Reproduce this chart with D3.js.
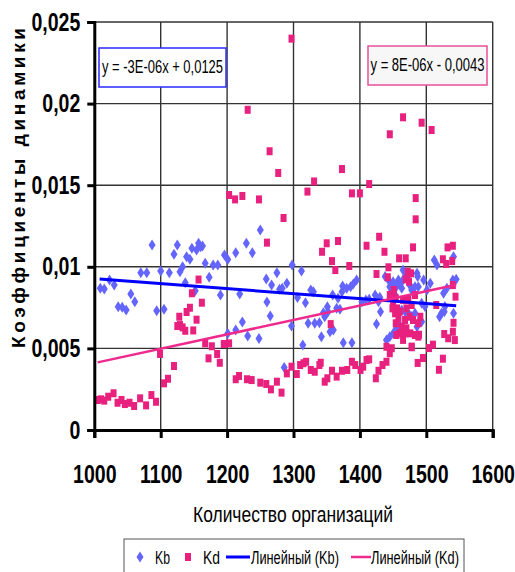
<!DOCTYPE html>
<html>
<head>
<meta charset="utf-8">
<script src="https://cdn.jsdelivr.net/npm/d3@7"></script>
<style>
  body { margin: 0; background: white; }
  text { font-family: "Liberation Sans", Arial, sans-serif; }
</style>
</head>
<body>
<script>
// Kb series (diamonds)
let kbX = [1009,1015,1023,1030,1036,1042,1048,1055,1061,1070,1079,1087,1094,1105,1100,1113,1120,1125,1129,1133,
  1137,1139,1144,1147,1152,1154,1157,1160,1163,1167,1173,1179,1186,1190,1196,1201,1201,1213,1213,1219,
  1223,1229,1231,1238,1248,1250,1259,1260,1265,1267,1275,1279,1283,1286,1290,1297,1298,1306,1312,1314,
  1318,1322,1326,1330,1332,1339,1342,1345,1347,1351,1352,1355,1360,1359,1365,1367,1370,1373,1374,1375,
  1380,1386,1388,1390,1395,1403,1409,1414,1423,1425,1428,1430,1431,
  1438,1443,1445,1448,1450,1453,1455,1458,1460,1463,1465,1468,1470,1473,1475,1478,1480,1483,1486,1487,
  1488,1491,1493,1486,1483,1478,1473,1468,1463,1445,1450,1455,1458,1440,1465,1496,1501,1498,1493,1506,
  1512,1516,1541,1540,1545,1531,1526,1520,1523,1527,1541,1528]
let kbY = [0.00868,0.00864,0.00919,0.00888,0.00755,0.00752,0.00735,0.00833,0.00786,0.00964,0.00964,0.01133,0.00731,0.00740,0.00974,0.00964,0.01077,0.01133,0.00970,0.01001,
  0.00902,0.01062,0.01046,0.01113,0.00853,0.01103,0.01144,0.01123,0.01127,0.01021,0.00936,0.01011,0.01011,0.00827,0.01072,0.01045,0.00592,0.01086,0.00613,0.00833,
  0.00662,0.01144,0.00576,0.01086,0.00561,0.01225,0.00925,0.00784,0.00698,0.00888,0.00964,0.00862,0.00868,0.00383,0.00899,0.00637,0.01011,0.00812,0.00974,0.00521,
  0.00780,0.00654,0.00858,0.00847,0.00654,0.00657,0.00572,0.00719,0.00694,0.00755,0.00725,0.00602,0.00613,0.00827,0.00746,0.00807,0.00740,0.00847,0.00882,0.00535,
  0.00868,0.00878,0.00535,0.00895,0.00919,0.00786,0.00797,0.00801,0.00827,0.00649,0.00786,0.00813,0.00725,
  0.00940,0.00919,0.00878,0.00858,0.00909,0.00827,0.00878,0.00919,0.00899,0.00868,0.00919,0.00940,0.00960,0.00919,0.00889,0.00858,0.00848,0.00878,0.00960,0.00940,
  0.00878,0.00674,0.00664,0.00633,0.00715,0.00695,0.00715,0.00725,0.00735,0.00572,0.00592,0.00623,0.00654,0.00552,0.00980,0.00919,0.00858,0.00756,0.00776,0.00899,
  0.01042,0.01011,0.01062,0.00919,0.00923,0.00868,0.00838,0.00694,0.00715,0.00725,0.00715,0.00756]

// Kd series (squares)
let kdX = [1005,1010,1015,1021,1029,1035,1041,1046,1053,1060,1069,1078,1086,1093,1099,1105,1111,1120,1125,1128,
  1129,1133,1137,1139,1144,1149,1154,1147,1157,1162,1167,1172,1177,1185,1189,1195,1203,1203,1212,1223,
  1231,1248,1260,1264,1277,1285,1297,1321,1331,
  1213,1218,1230,1237,1250,1259,1266,1275,1282,1290,1297,1305,1310,1315,1319,1326,1332,1339,1341,1347,
  1351,1358,1365,1373,1381,1388,1393,1401,1405,1410,1414,1424,1428,1434,1440,1445,1440,1448,1478,1489,
  1487,1495,1504,1510,1525,1519,
  1343,1350,1367,1358,1363,1384,1373,1388,1400,1414,1484,1484,1410,1429,1437,1480,1459,1469,1443,1425,
  1532,1540,1525,1530,1539,1472,1477,1469,1474,1442,1540,1544,1541,1540,1543,1527,1533,1515,1356,
  1448,1450,1454,1456,1453,1460,1458,1454,1463,1468,1470,1465,1473,1478,1475,1480,1470,1476,1468,1460,
  1455,1465,1483,1488,1478,1445,1449,1483,1451,1488,1491,
  1465,1493,1508,1445]
let kdY = [0.00184,0.00188,0.00180,0.00204,0.00225,0.00167,0.00184,0.00159,0.00167,0.00147,0.00194,0.00151,0.00214,0.00173,0.00466,0.00286,0.00314,0.00392,0.00637,0.00694,
  0.00643,0.00629,0.00608,0.00723,0.00749,0.00610,0.00676,0.00838,0.00922,0.00780,0.00531,0.00439,0.00513,0.00466,0.00412,0.00527,0.00531,0.01440,0.01413,0.01434,
  0.01962,0.01413,0.01148,0.01708,0.01575,0.01299,0.02398,0.01461,0.01523,
  0.00311,0.00331,0.00311,0.00306,0.00290,0.00282,0.00249,0.00296,0.00229,0.00347,0.00388,0.00343,0.00398,0.00409,0.00418,0.00368,0.00357,0.00398,0.00412,0.00296,
  0.00317,0.00363,0.00327,0.00363,0.00368,0.00418,0.00398,0.00368,0.00388,0.00429,0.00433,0.00317,0.00363,0.00398,0.00418,0.00470,0.00510,0.00501,0.00507,0.00584,
  0.00411,0.00441,0.00502,0.00523,0.00437,0.00369,
  0.01092,0.01144,0.01158,0.01035,0.00980,0.01005,0.01599,0.01450,0.01450,0.01507,0.01421,0.01291,0.01129,0.01184,0.01092,0.01119,0.01052,0.01052,0.00997,0.00956,
  0.01119,0.01129,0.01046,0.01017,0.01035,0.00970,0.00960,0.00923,0.00909,0.00936,0.00888,0.00817,0.00657,0.00602,0.00551,0.00588,0.00562,0.00766,0.00649,
  0.00827,0.00776,0.00807,0.00745,0.00715,0.00725,0.00684,0.00654,0.00633,0.00674,0.00745,0.00797,0.00797,0.00766,0.00694,0.00674,0.00623,0.00592,0.00592,0.00592,
  0.00582,0.00552,0.00582,0.00572,0.00511,0.00827,0.00745,0.00827,0.00858,0.00654,0.00694,
  0.01916,0.01883,0.01838,0.01812]

// linear trends (as drawn), order: Kb, Kd
let trendSlope = [-3.05e-6, 8.8e-6]
let trendIntercept = [0.01232, -0.0047]
let trendFrom = [1008, 1005]
let trendTo = [1545, 1545]
let trendColors = ["#0000ff", "#ee2a8c"]
let trendLabels = ["y = -3E-06x + 0,0125", "y = 8E-06x - 0,0043"]

let xTicks = [1000, 1100, 1200, 1300, 1400, 1500, 1600]
let yTicks = [0, 0.005, 0.01, 0.015, 0.02, 0.025]

// squeeze text horizontally, like a narrow font
function narrow(sel, k) {
  sel.each(function() {
    let len = this.getComputedTextLength()
    d3.select(this).attr("textLength", len * k).attr("lengthAdjust", "spacingAndGlyphs")
  })
}

let svg = d3.select("body")
  .append("svg")
    .attr("width", 515)
    .attr("height", 572)

let x = d3.scaleLinear().domain([1000, 1600]).range([94.3, 492.7])
let y = d3.scaleLinear().domain([0, 0.025]).range([430, 22])

// grid
svg.append("g")
  .selectAll("line")
  .data(yTicks.slice(1))
  .join("line")
    .attr("x1", x(1000)).attr("x2", x(1600))
    .attr("y1", d => y(d)).attr("y2", d => y(d))
    .attr("stroke", "#333").attr("stroke-width", 1.4)
svg.append("g")
  .selectAll("line")
  .data(xTicks.slice(1))
  .join("line")
    .attr("x1", d => x(d)).attr("x2", d => x(d))
    .attr("y1", y(0)).attr("y2", y(0.025))
    .attr("stroke", "#333").attr("stroke-width", 1.4)

// points
let kb = kbX.map((d, i) => [d, kbY[i]])
let kd = kdX.map((d, i) => [d, kdY[i]])

svg.append("g")
  .selectAll("path")
  .data(kb)
  .join("path")
    .attr("d", "M0,-5.5L3.5,0L0,5.5L-3.5,0Z")
    .attr("transform", d => "translate(" + x(d[0]) + "," + y(d[1]) + ")")
    .attr("fill", "#6464ff")

svg.append("g")
  .selectAll("rect")
  .data(kd)
  .join("rect")
    .attr("x", d => x(d[0]) - 3)
    .attr("y", d => y(d[1]) - 4)
    .attr("width", 6)
    .attr("height", 8)
    .attr("fill", "#e8207e")

// trend lines
for (let i = 0; i < 2; i++) {
  svg.append("line")
    .attr("x1", x(trendFrom[i]))
    .attr("y1", y(trendSlope[i] * trendFrom[i] + trendIntercept[i]))
    .attr("x2", x(trendTo[i]))
    .attr("y2", y(trendSlope[i] * trendTo[i] + trendIntercept[i]))
    .attr("stroke", trendColors[i])
    .attr("stroke-width", i == 0 ? 3 : 2.5)
}

// axes
svg.append("g")
  .attr("transform", "translate(" + x(1000) + ",0)")
  .call(d3.axisLeft(y).tickValues(yTicks).tickSize(7).tickPadding(7)
    .tickFormat(d => d == 0 ? "0" : String(d).replace(".", ",")))
svg.append("g")
  .attr("transform", "translate(0," + y(0) + ")")
  .call(d3.axisBottom(x).tickValues(xTicks).tickSize(8).tickPadding(27).tickFormat(d => d))

svg.selectAll(".domain, .tick line")
  .attr("stroke", "black")
  .attr("stroke-width", 3)
svg.selectAll(".tick text")
  .attr("fill", "black")
  .style("font-size", "25px")
  .style("font-weight", "bold")
  .call(narrow, 0.78)

// axis titles
svg.append("text")
  .attr("transform", "translate(25,188) rotate(-90)")
  .attr("text-anchor", "middle")
  .attr("textLength", 320)
  .attr("lengthAdjust", "spacing")
  .style("font-size", "19px")
  .style("font-weight", "bold")
  .text("Коэффициенты динамики")

svg.append("text")
  .attr("x", 293)
  .attr("y", 522)
  .attr("text-anchor", "middle")
  .style("font-size", "22px")
  .text("Количество организаций")
  .attr("textLength", 200)
  .attr("lengthAdjust", "spacingAndGlyphs")

// equation boxes
let boxes = [[99, 48, 127, 39, "white", "#2a2aff", 121], [368, 46, 119, 39, "#f7f7f7", "#e8509a", 114]]
for (let i = 0; i < 2; i++) {
  svg.append("rect")
    .attr("x", boxes[i][0]).attr("y", boxes[i][1])
    .attr("width", boxes[i][2]).attr("height", boxes[i][3])
    .attr("fill", boxes[i][4]).attr("stroke", boxes[i][5]).attr("stroke-width", 1.5)
  svg.append("text")
    .attr("x", boxes[i][0] + boxes[i][2] / 2)
    .attr("y", boxes[i][1] + 25)
    .attr("text-anchor", "middle")
    .attr("textLength", boxes[i][6])
    .attr("lengthAdjust", "spacingAndGlyphs")
    .style("font-size", "18px")
    .text(trendLabels[i])
}

// legend
svg.append("rect")
  .attr("x", 124).attr("y", 539)
  .attr("width", 340).attr("height", 40)
  .attr("fill", "white").attr("stroke", "#555").attr("stroke-width", 1)

svg.append("path")
  .attr("d", "M0,-5.5L3.5,0L0,5.5L-3.5,0Z")
  .attr("transform", "translate(140,557)")
  .attr("fill", "#6464ff")
svg.append("rect")
  .attr("x", 185).attr("y", 553).attr("width", 6).attr("height", 8)
  .attr("fill", "#e8207e")
svg.append("line")
  .attr("x1", 226).attr("x2", 250).attr("y1", 557).attr("y2", 557)
  .attr("stroke", trendColors[0]).attr("stroke-width", 3)
svg.append("line")
  .attr("x1", 351).attr("x2", 371).attr("y1", 557).attr("y2", 557)
  .attr("stroke", trendColors[1]).attr("stroke-width", 2.5)

let legendText = [["Kb", 155, 15], ["Kd", 203, 17], ["Линейный (Kb)", 251, 88], ["Линейный (Kd)", 371, 88]]
svg.append("g")
  .selectAll("text")
  .data(legendText)
  .join("text")
    .attr("x", d => d[1])
    .attr("y", 564)
    .attr("textLength", d => d[2])
    .attr("lengthAdjust", "spacingAndGlyphs")
    .style("font-size", "19px")
    .text(d => d[0])
</script>
</body>
</html>
